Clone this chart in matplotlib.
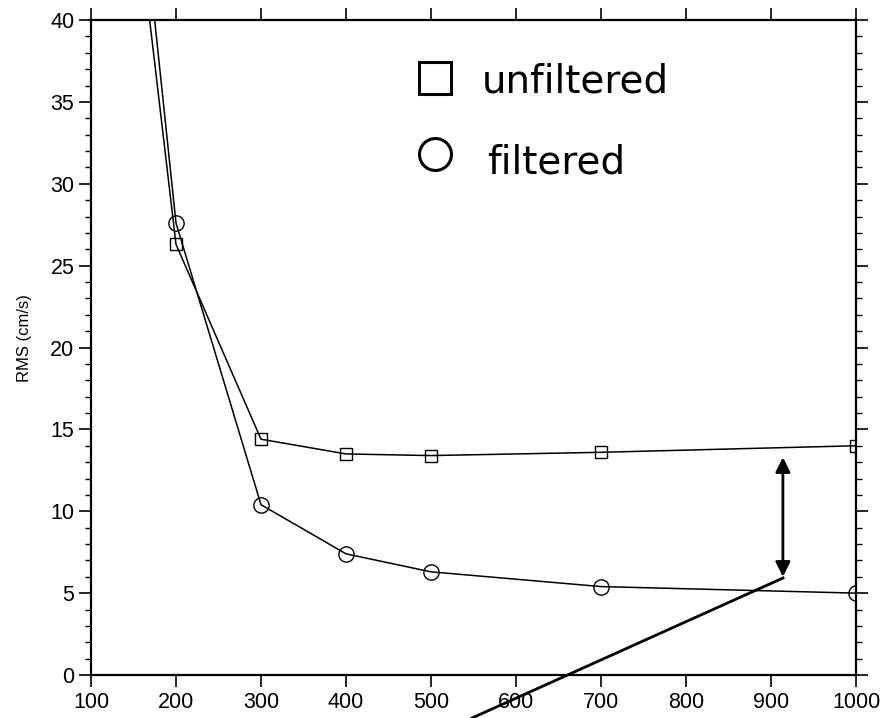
import matplotlib
matplotlib.use("Agg")
import matplotlib.pyplot as plt
from matplotlib.lines import Line2D
from matplotlib.ticker import MultipleLocator

# grid size (x) and RMS values
x_unf = [100, 200, 300, 400, 500, 700, 1000]
rms_unf = [70.5, 26.3, 14.4, 13.5, 13.4, 13.6, 14.0]
x_fil = [100, 200, 300, 400, 500, 700, 1000]
rms_fil = [77.0, 27.6, 10.4, 7.4, 6.3, 5.4, 5.0]

xticks = [100, 200, 300, 400, 500, 600, 700, 800, 900, 1000]
yticks = [0, 5, 10, 15, 20, 25, 30, 35, 40]

plt.rcParams['font.family'] = ['Liberation Sans', 'DejaVu Sans']

fig = plt.figure(figsize=(8.85, 7.18), dpi=100)
ax = fig.add_axes([91/885, 1-675/718, (856-91)/885, (675-20)/718])

# unfiltered - squares, filtered - circles
ax.plot(x_unf, rms_unf, color='black', lw=1.1, marker='s', ms=8,
        mfc='none', mec='black', mew=1.0)
ax.plot(x_fil, rms_fil, color='black', lw=1.1, marker='o', ms=11,
        mfc='none', mec='black', mew=1.0)

ax.set_xlim(100, 1000)
ax.set_ylim(0, 40)
ax.set_xticks(xticks)
ax.set_yticks(yticks)
ax.yaxis.set_minor_locator(MultipleLocator(1))
ax.tick_params(axis='both', which='major', direction='out', length=8.5,
               width=1.2, labelsize=15.5, colors='black')
ax.tick_params(axis='y', which='minor', direction='out', length=4.3, width=1.0)
ax.tick_params(top=True, right=True, which='both')
ax.tick_params(axis='x', which='major', pad=4)
ax.tick_params(labeltop=False, labelright=False)
for sp in ax.spines.values():
    sp.set_linewidth(1.6)
ax.set_ylabel('RMS (cm/s)', fontsize=12)
ax.yaxis.set_label_coords(-0.077, 0.514)

# hand-drawn legend
ax.plot([0.45], [0.911], transform=ax.transAxes, marker='s', ms=23,
        mfc='none', mec='black', mew=2.2, clip_on=False)
ax.plot([0.45], [0.795], transform=ax.transAxes, marker='o', ms=23,
        mfc='none', mec='black', mew=2.2, clip_on=False)
ax.text(0.511, 0.889, 'unfiltered', transform=ax.transAxes, fontsize=28,
        family=['DejaVu Sans'], va='baseline', ha='left')
ax.text(0.518, 0.766, 'filtered', transform=ax.transAxes, fontsize=28,
        family=['DejaVu Sans'], va='baseline', ha='left')

# double arrow between the curves
ax.annotate('', xy=(914, 13.3), xytext=(914, 6.0),
            arrowprops=dict(arrowstyle='<|-|>', color='black', lw=2,
                            mutation_scale=22, shrinkA=0, shrinkB=0))
fig.add_artist(Line2D([783/885, 472/885], [1-578/718, 0.0],
                      transform=fig.transFigure, color='black', lw=2))

fig.savefig('out.png', dpi=100)
